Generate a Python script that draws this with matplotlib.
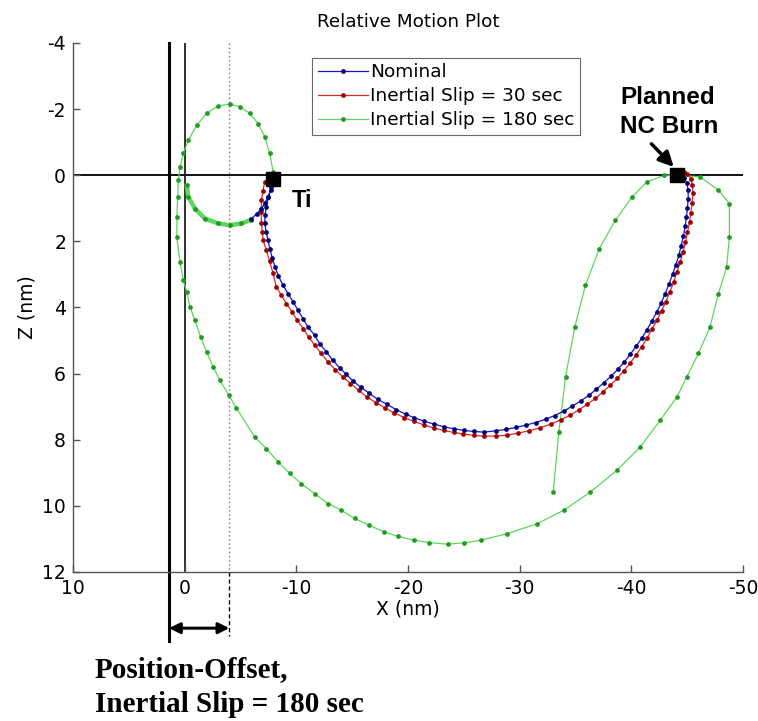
import matplotlib
matplotlib.use("Agg")
import matplotlib.pyplot as plt

plt.rcParams['font.family'] = ['DejaVu Sans']
plt.rcParams['axes.unicode_minus'] = False

# ---------------- data ----------------
nominal_x = [-5.98, -6.45, -6.88, -7.20, -7.47, -7.72, -7.92,
             -7.77, -7.50, -7.32, -7.20, -7.17, -7.30, -7.47, -7.62, -7.85, -8.10, -8.40,
             -8.81, -9.26, -9.71, -10.15, -10.60, -11.04, -11.64, -12.08, -12.68, -13.28,
             -13.87, -14.46, -15.06, -15.80, -16.55, -17.29, -18.13, -18.93, -19.82,
             -20.57, -21.46, -22.35, -23.24, -24.13, -25.03, -25.92, -26.81,
             -27.86, -28.75, -29.64, -30.54, -31.43, -32.32, -33.13, -33.96, -34.70,
             -35.45, -36.19, -36.88, -37.53, -38.19, -38.78, -39.38, -39.91, -40.45,
             -40.95, -41.40, -41.85, -42.29, -42.68, -43.04, -43.36, -43.69, -43.99,
             -44.26, -44.46, -44.67, -44.82, -44.94, -45.03, -45.09, -45.09, -44.97,
             -44.73, -44.38]
nominal_z = [1.31, 1.17, 1.01, 0.84, 0.66, 0.45, 0.25,
             0.35, 0.65, 0.96, 1.21, 1.46, 1.72, 1.97, 2.22, 2.50, 2.78, 3.05,
             3.33, 3.58, 3.83, 4.08, 4.34, 4.59, 4.84, 5.09, 5.34, 5.60,
             5.82, 6.02, 6.22, 6.42, 6.60, 6.78, 6.93, 7.09, 7.23,
             7.34, 7.44, 7.53, 7.61, 7.67, 7.72, 7.75, 7.77,
             7.73, 7.69, 7.63, 7.56, 7.48, 7.38, 7.27, 7.13, 6.99,
             6.83, 6.66, 6.47, 6.28, 6.08, 5.87, 5.65, 5.41, 5.17,
             4.92, 4.67, 4.41, 4.13, 3.86, 3.58, 3.30, 3.00, 2.71,
             2.42, 2.13, 1.84, 1.54, 1.26, 0.98, 0.71, 0.45, 0.23,
             0.07, 0.00]

slip30_x = [-7.17, -7.00, -6.88, -6.85, -6.88, -6.95, -7.03, -7.32, -7.60, -7.90,
            -8.21, -8.66, -9.11, -9.61, -10.09, -10.60, -11.10, -11.64, -12.23, -12.83,
            -13.48, -14.17, -14.85, -15.57, -16.34, -17.14, -17.95, -18.78, -19.67,
            -20.51, -21.40, -22.29, -23.19, -24.08, -24.97, -25.92, -26.81,
            -27.86, -28.90, -29.85, -30.83, -31.81, -32.77, -33.66, -34.49, -35.30,
            -36.04, -36.79, -37.47, -38.13, -38.75, -39.31, -39.88, -40.42, -40.92,
            -41.40, -41.85, -42.29, -42.71, -43.10, -43.45, -43.78, -44.08, -44.38,
            -44.62, -44.85, -45.03, -45.21, -45.33, -45.45, -45.51, -45.47, -45.33,
            -45.03, -44.73]
slip30_z = [0.20, 0.48, 0.76, 1.10, 1.46, 1.72, 1.97, 2.27, 2.60, 2.95,
            3.38, 3.63, 3.88, 4.13, 4.39, 4.64, 4.89, 5.14, 5.39, 5.65,
            5.88, 6.10, 6.30, 6.50, 6.71, 6.88, 7.04, 7.19, 7.33,
            7.44, 7.55, 7.64, 7.72, 7.78, 7.83, 7.87, 7.89,
            7.89, 7.86, 7.80, 7.73, 7.64, 7.53, 7.40, 7.26, 7.10,
            6.93, 6.75, 6.55, 6.35, 6.14, 5.92, 5.69, 5.44, 5.19,
            4.93, 4.66, 4.39, 4.10, 3.82, 3.53, 3.24, 2.93, 2.63,
            2.33, 2.03, 1.72, 1.42, 1.13, 0.84, 0.55, 0.30, 0.10,
            -0.03, -0.09]

slip180_x = [-0.18, -0.33, -0.92, -1.81, -3.01, -4.04, -5.09, -5.98,
             -6.88, -7.47, -7.92,
             -7.92, -7.62, -7.17, -6.58, -5.83, -4.94, -4.04, -3.01, -1.96, -1.07,
             -0.33, 0.12, 0.42, 0.56, 0.63, 0.69, 0.71, 0.42, 0.12, -0.18, -0.47,
             -0.92, -1.43, -1.96, -2.56, -3.15, -3.96, -4.64, -6.28, -7.32, -8.37,
             -9.40, -10.45, -11.63, -12.83, -14.02, -15.21, -16.54, -17.88, -19.08,
             -20.56, -21.90, -23.54, -25.03, -26.52, -28.90, -31.58, -33.96, -36.34,
             -38.72, -40.80, -42.59, -44.08, -44.97, -46.01, -47.05, -47.80, -48.54,
             -48.78, -48.78, -47.80, -46.16, -44.10, -42.97, -41.40, -40.06, -38.57,
             -37.14, -35.89, -34.94, -34.11, -33.51, -33.01]
slip180_z = [0.30, 0.66, 1.01, 1.31, 1.46, 1.51, 1.46, 1.34,
             1.01, 0.66, 0.25,
             -0.10, -0.66, -1.16, -1.56, -1.87, -2.07, -2.15, -2.10, -1.87, -1.51,
             -1.06, -0.66, -0.25, 0.15, 0.66, 1.26, 1.87, 2.62, 3.18, 3.53, 3.98,
             4.39, 4.89, 5.34, 5.80, 6.20, 6.65, 7.05, 7.92, 8.27, 8.67,
             9.02, 9.33, 9.63, 9.93, 10.13, 10.38, 10.59, 10.79, 10.92,
             11.04, 11.11, 11.16, 11.12, 11.04, 10.84, 10.54, 10.13, 9.58,
             8.92, 8.22, 7.41, 6.71, 6.10, 5.39, 4.59, 3.58, 2.77,
             1.87, 0.86, 0.45, 0.05, 0.00, 0.00, 0.20, 0.66, 1.36,
             2.22, 3.33, 4.59, 6.10, 7.76, 9.58]
dense_count = 8  # first points of the 180 s series are densely sampled

labels = ['Nominal', 'Inertial Slip = 30 sec', 'Inertial Slip = 180 sec']

ti_point = (-7.9, 0.1)
nc_point = (-44.1, 0.0)
offset_lines = (1.4, 0.0, -4.0)   # thick line, x=0 line, dotted offset line

x_ticks = [10, 0, -10, -20, -30, -40, -50]
z_ticks = [-4, -2, 0, 2, 4, 6, 8, 10, 12]

# ---------------- figure ----------------
fig = plt.figure(figsize=(7.58, 7.21), dpi=100)
ax = fig.add_axes([0.0963, 0.2067, 0.8839, 0.7337])

ax.set_xlim(10, -50)
ax.set_ylim(12, -4)

blue, blue_m = '#1414c8', '#00007a'
red, red_m = '#d82a2a', '#a00000'
green, green_m = '#5ad85a', '#229a22'

ax.plot(slip180_x[:dense_count], slip180_z[:dense_count], color=green, lw=3.2,
        solid_capstyle='round', zorder=2)
l3, = ax.plot(slip180_x, slip180_z, color=green, lw=0.9, marker='o', ms=2.4,
              mfc=green_m, mec=green_m, zorder=2, label=labels[2])
l2, = ax.plot(slip30_x, slip30_z, color=red, lw=0.9, marker='o', ms=2.4,
              mfc=red_m, mec=red_m, zorder=3, label=labels[1])
l1, = ax.plot(nominal_x, nominal_z, color=blue, lw=0.9, marker='o', ms=2.4,
              mfc=blue_m, mec=blue_m, zorder=4, label=labels[0])

# reference lines
ax.axhline(0, color='black', lw=1.3, zorder=1)
ax.plot([offset_lines[1], offset_lines[1]], [-4, 12], color='#222222', lw=1.3, zorder=1)
ax.plot([offset_lines[0], offset_lines[0]], [-4, 14.1], color='black', lw=2.2,
        zorder=1, clip_on=False)
ax.plot([offset_lines[2], offset_lines[2]], [-4, 12], color='#777777', lw=1.0,
        ls=(0, (1, 2)), zorder=1)
ax.plot([offset_lines[2], offset_lines[2]], [12, 13.95], color='black', lw=1.0,
        ls=(0, (3, 2)), zorder=1, clip_on=False)
ax.annotate('', xy=(offset_lines[2], 13.7), xytext=(offset_lines[0], 13.7),
            annotation_clip=False,
            arrowprops=dict(arrowstyle='<|-|>', color='black', lw=2.2,
                            mutation_scale=16, shrinkA=0, shrinkB=0))

# markers
ax.plot([ti_point[0]], [ti_point[1]], marker='s', ms=9.5, color='black', zorder=6)
ax.plot([nc_point[0]], [nc_point[1]], marker='s', ms=9.5, color='black', zorder=6)
ax.text(-9.55, 0.97, 'Ti', fontsize=17, fontweight='bold', ha='left', va='baseline',
        family='Liberation Sans')
ax.text(-39.0, -2.15, 'Planned', fontsize=17.5, fontweight='bold', ha='left',
        va='baseline', family='Liberation Sans')
ax.text(-39.0, -1.27, 'NC Burn', fontsize=17.5, fontweight='bold', ha='left',
        va='baseline', family='Liberation Sans')
ax.annotate('', xy=(-43.8, -0.25), xytext=(-41.8, -0.95),
            arrowprops=dict(arrowstyle='-|>', color='black', lw=2.5,
                            mutation_scale=22, shrinkA=0, shrinkB=0))

# axes styling
for s in ['top', 'right']:
    ax.spines[s].set_visible(False)
for s in ['left', 'bottom']:
    ax.spines[s].set_color('#555555')
    ax.spines[s].set_linewidth(1.0)
ax.set_xticks(x_ticks)
ax.set_yticks(z_ticks)
ax.set_xticklabels([str(v) for v in x_ticks])
ax.set_yticklabels([str(v) for v in z_ticks])
ax.tick_params(direction='in', length=5, width=1.0, color='#555555',
               labelsize=13.5, pad=5)

ax.set_title('Relative Motion Plot', fontsize=13.2, pad=11.5)
ax.set_xlabel('X (nm)', fontsize=13.5)
ax.set_ylabel('Z (nm)', fontsize=13.5)
ax.xaxis.set_label_coords(0.5, -0.052)
ax.yaxis.set_label_coords(-0.055, 0.5)

leg = ax.legend(handles=[l1, l2, l3], loc='upper left',
                bbox_to_anchor=(0.357, 0.972), borderaxespad=0, fontsize=13.3,
                frameon=True, fancybox=False, edgecolor='#444444',
                handlelength=2.7, numpoints=1, borderpad=0.3,
                labelspacing=0.32, handletextpad=0.15)
leg.get_frame().set_linewidth(0.8)
leg.set_zorder(10)

# bottom annotation text
fig.text(0.1253, 0.061, 'Position-Offset,', fontsize=21, fontweight='bold',
         family='Liberation Serif', ha='left', va='baseline')
fig.text(0.1253, 0.0125, 'Inertial Slip = 180 sec', fontsize=21, fontweight='bold',
         family='Liberation Serif', ha='left', va='baseline')

fig.savefig('out.png', dpi=100)
